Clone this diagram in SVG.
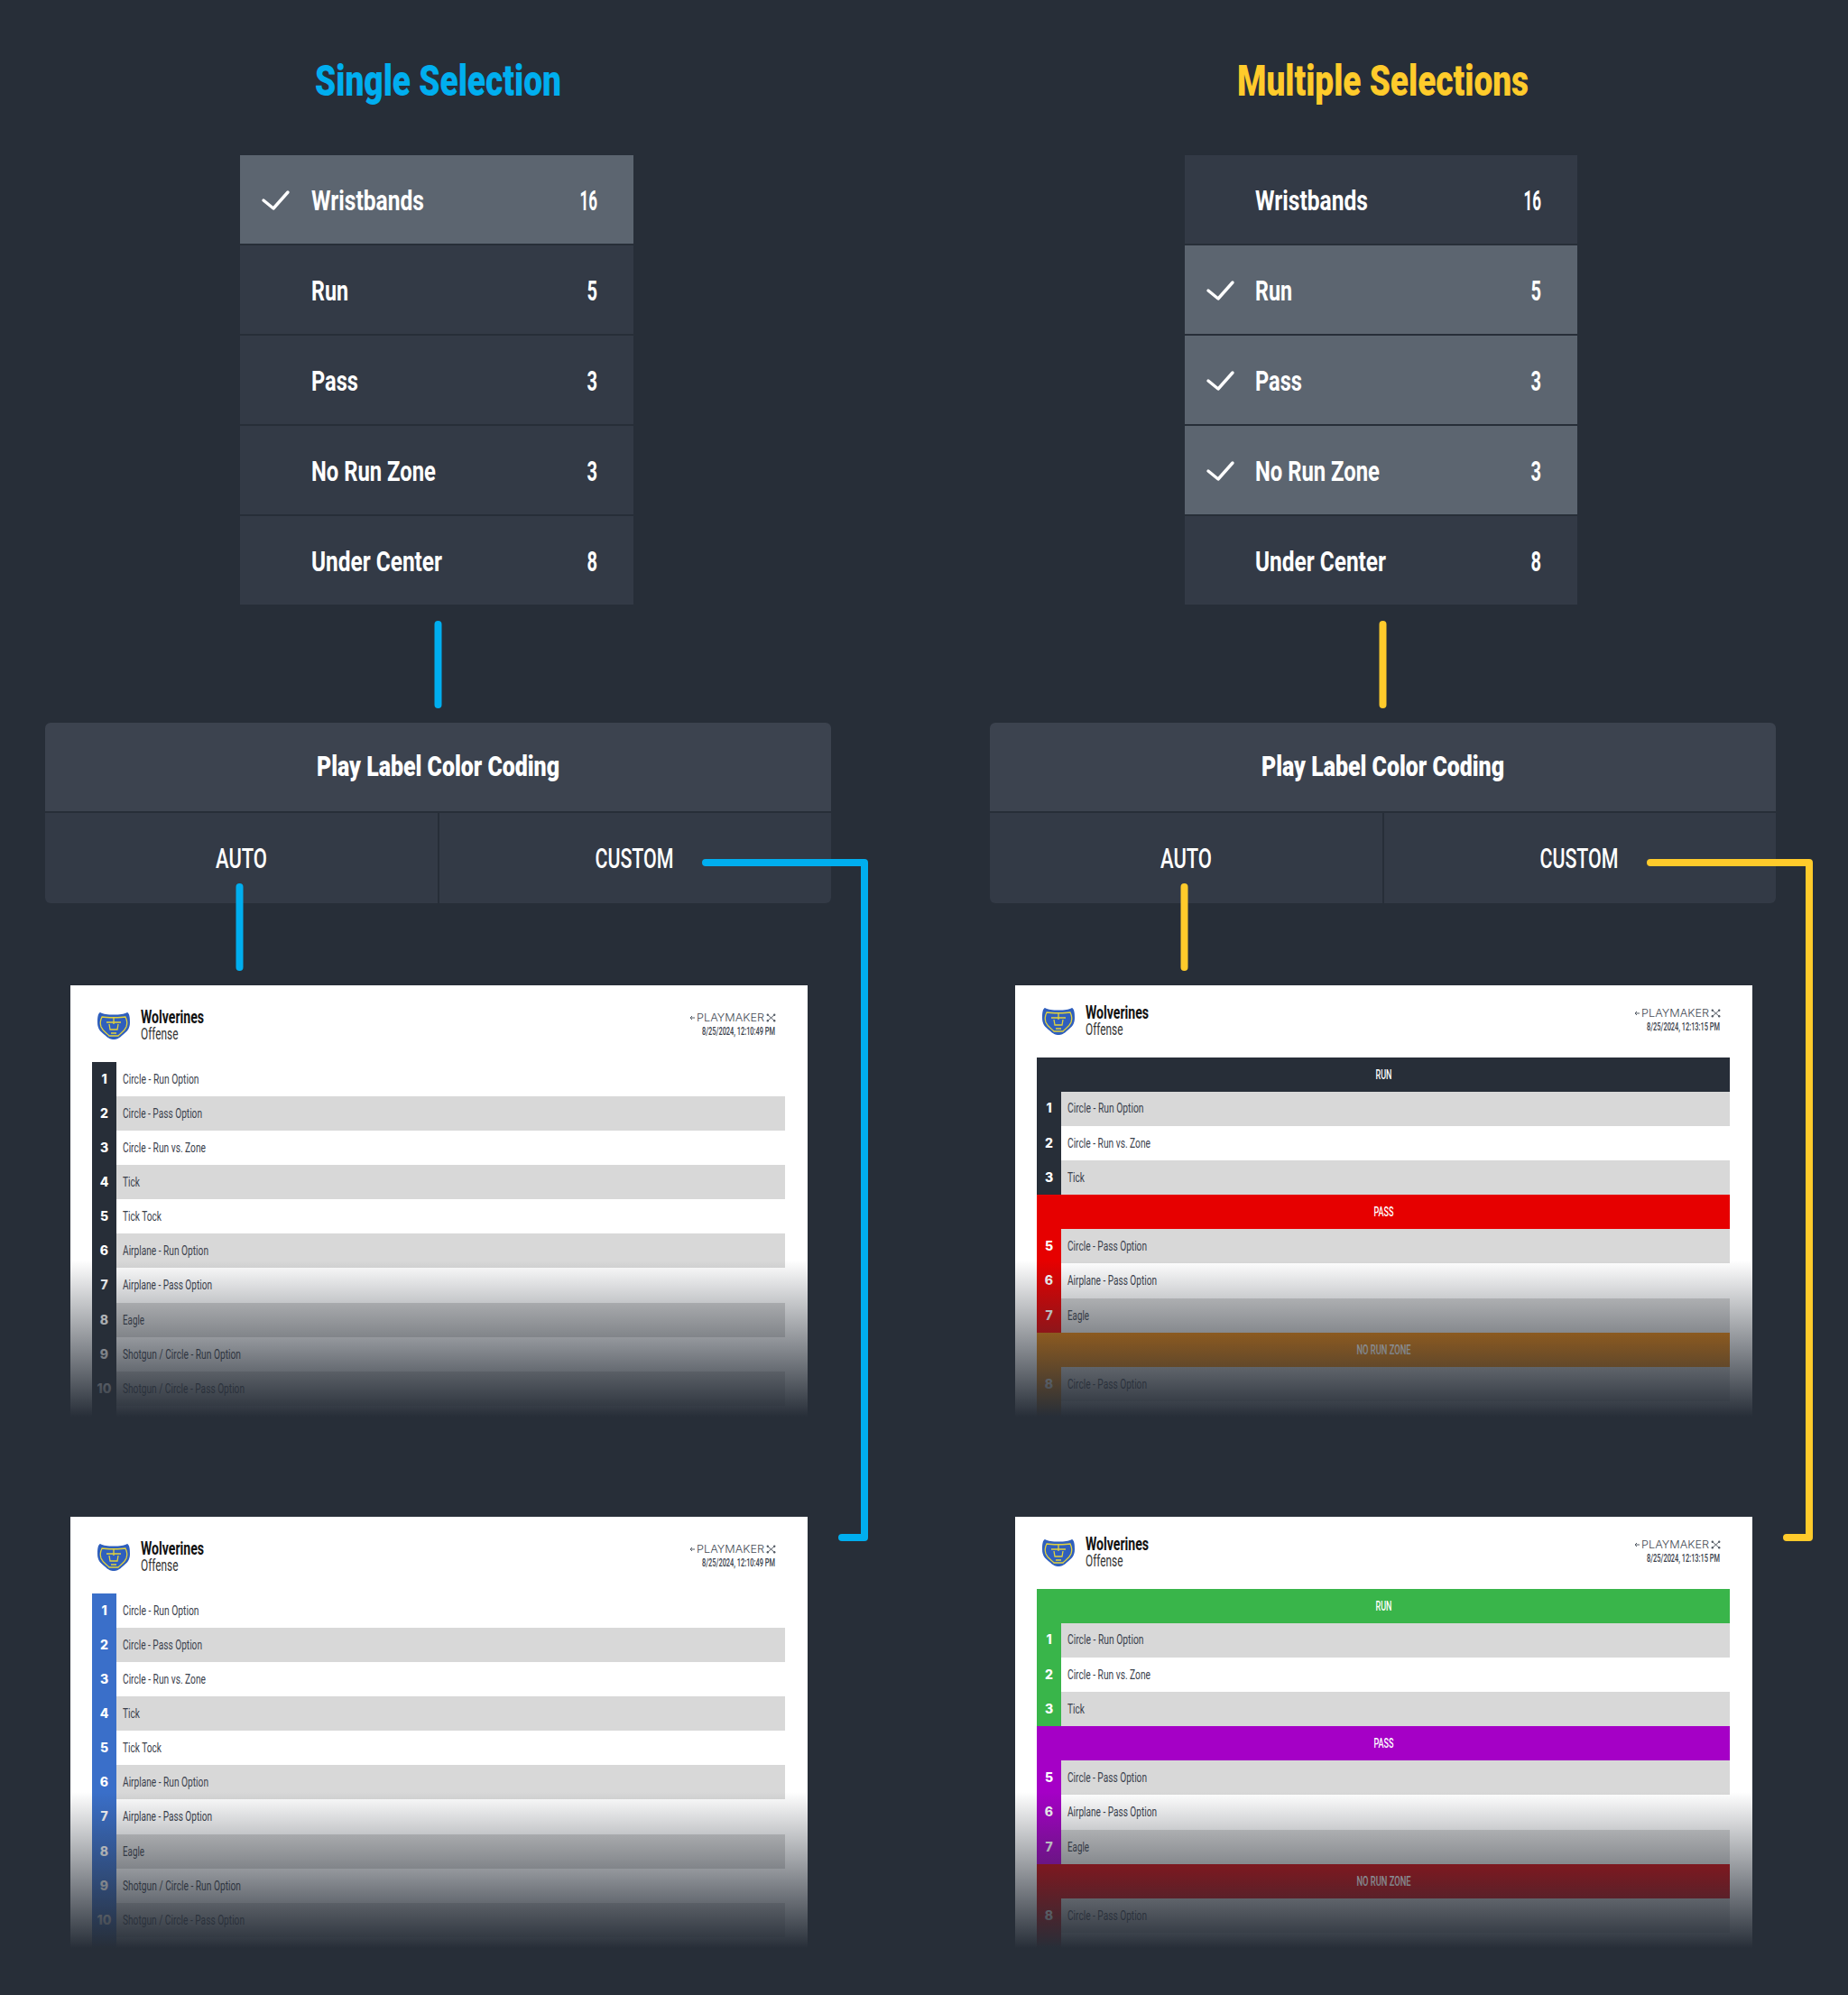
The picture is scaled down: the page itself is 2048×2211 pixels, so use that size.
<svg xmlns="http://www.w3.org/2000/svg" width="2048" height="2211" viewBox="0 0 2048 2211">
<style>
text{font-family:"Roboto","Liberation Sans",sans-serif}
.title{font-size:48px;font-weight:900}
.blue{fill:#00aeef}.yel{fill:#ffcb2b}
.row{fill:#333a46}.sel{fill:#5c6570}.phead{fill:#3c434f}
.lab{font-size:31px;font-weight:700;fill:#fff}
.hd{font-size:31px;font-weight:900;fill:#fff}
.opt{font-size:31px;font-weight:500;fill:#fff}
.check{fill:none;stroke:#fff;stroke-width:3.4;stroke-linecap:round;stroke-linejoin:round}
.conn{fill:none;stroke-width:8;stroke-linecap:round;stroke-linejoin:round}
.cb{stroke:#00aeef}.cy{stroke:#ffcb2b}
.paper{fill:#fff}.gr{fill:#d8d8d8}
.t{font-size:15px;fill:#3a414c}
.n{font-size:14px;font-weight:800;fill:#fff;text-anchor:middle;font-family:"Inter","Liberation Sans",sans-serif}
.w{font-size:20px;font-weight:700;fill:#111}
.o{font-size:18px;fill:#333}
.pm{font-size:11.500px;font-weight:300;fill:#444b55;font-family:"Inter","Liberation Sans",sans-serif}
.d{font-size:12px;font-weight:500;fill:#3a414c}
.s{font-size:14px;font-weight:500;fill:#fff;text-anchor:middle}
.mk{fill:none;stroke:#555c66;stroke-width:1}
</style>
<defs>
<linearGradient id="fade" x1="0" y1="0" x2="0" y2="1"><stop offset="0" stop-color="#272e38" stop-opacity="0"/><stop offset="1" stop-color="#272e38" stop-opacity="1"/></linearGradient>
<g id="logo">
<path d="M-15,-15 C-11,-13 -7,-12.500 0,-12.500 C7,-12.500 11,-13 15,-15 C17.500,-14 18,-9 18,-4 C18,3 15,6 10,10 C6,14 3,15 0,15 C-3,15 -6,14 -10,10 C-15,6 -18,3 -18,-4 C-18,-9 -17.500,-14 -15,-15Z" fill="#2f5fbd"/>
<path d="M-13,-10 C-8,-9 8,-9 13,-10 C15,-6 15,-2 14,1 C12,6 8,8 5,11 L-5,11 C-8,8 -12,6 -14,1 C-15,-2 -15,-6 -13,-10Z M0,-10 V-2 M-8,-4 H8 M-5,-2 L-4,4 H4 L5,-2 M-3,8 H3" fill="none" stroke="#e3d33c" stroke-width="1.300"/>
</g>
<g id="pmarrow"><path class="mk" d="M6,-4 H1 M3,-6 L1,-4 L3,-2"/></g>
<g id="pmx">
<path class="mk" d="M0,-8 L9,0 M9,-8 L0,0"/>
<circle cx="0.800" cy="-7.200" r="1.200" fill="#555c66"/><circle cx="8.200" cy="-7.200" r="1.200" fill="#555c66"/><circle cx="0.800" cy="-0.800" r="1.200" fill="#555c66"/><circle cx="8.200" cy="-0.800" r="1.200" fill="#555c66"/>
</g>
</defs>
<rect width="2048" height="2211" fill="#272e38"/>

<g id="title-single"><text class="title blue" x="349" y="106" textLength="273" lengthAdjust="spacingAndGlyphs">Single Selection</text></g>
<g id="title-multiple"><text class="title yel" x="1371" y="106" textLength="323" lengthAdjust="spacingAndGlyphs">Multiple Selections</text></g>

<g id="list-single">
<g id="s-wristbands"><rect class="sel" x="266" y="172" width="436" height="98"/><polyline class="check" points="292,222 303,231 319,213"/><text class="lab" x="345" y="233" textLength="125" lengthAdjust="spacingAndGlyphs">Wristbands</text><text class="lab" x="642.500" y="233" textLength="19.500" lengthAdjust="spacingAndGlyphs">16</text></g>
<g id="s-run"><rect class="row" x="266" y="272" width="436" height="98"/><text class="lab" x="345" y="333" textLength="41" lengthAdjust="spacingAndGlyphs">Run</text><text class="lab" x="650.500" y="333" textLength="11.500" lengthAdjust="spacingAndGlyphs">5</text></g>
<g id="s-pass"><rect class="row" x="266" y="372" width="436" height="98"/><text class="lab" x="345" y="433" textLength="52" lengthAdjust="spacingAndGlyphs">Pass</text><text class="lab" x="650.500" y="433" textLength="11.500" lengthAdjust="spacingAndGlyphs">3</text></g>
<g id="s-norun"><rect class="row" x="266" y="472" width="436" height="98"/><text class="lab" x="345" y="533" textLength="138" lengthAdjust="spacingAndGlyphs">No Run Zone</text><text class="lab" x="650.500" y="533" textLength="11.500" lengthAdjust="spacingAndGlyphs">3</text></g>
<g id="s-under"><rect class="row" x="266" y="572" width="436" height="98"/><text class="lab" x="345" y="633" textLength="145" lengthAdjust="spacingAndGlyphs">Under Center</text><text class="lab" x="650.500" y="633" textLength="11.500" lengthAdjust="spacingAndGlyphs">8</text></g>
</g>

<g id="list-multiple">
<g id="m-wristbands"><rect class="row" x="1313" y="172" width="435" height="98"/><text class="lab" x="1391" y="233" textLength="125" lengthAdjust="spacingAndGlyphs">Wristbands</text><text class="lab" x="1688.500" y="233" textLength="19.500" lengthAdjust="spacingAndGlyphs">16</text></g>
<g id="m-run"><rect class="sel" x="1313" y="272" width="435" height="98"/><polyline class="check" points="1339,322 1350,331 1366,313"/><text class="lab" x="1391" y="333" textLength="41" lengthAdjust="spacingAndGlyphs">Run</text><text class="lab" x="1696.500" y="333" textLength="11.500" lengthAdjust="spacingAndGlyphs">5</text></g>
<g id="m-pass"><rect class="sel" x="1313" y="372" width="435" height="98"/><polyline class="check" points="1339,422 1350,431 1366,413"/><text class="lab" x="1391" y="433" textLength="52" lengthAdjust="spacingAndGlyphs">Pass</text><text class="lab" x="1696.500" y="433" textLength="11.500" lengthAdjust="spacingAndGlyphs">3</text></g>
<g id="m-norun"><rect class="sel" x="1313" y="472" width="435" height="98"/><polyline class="check" points="1339,522 1350,531 1366,513"/><text class="lab" x="1391" y="533" textLength="138" lengthAdjust="spacingAndGlyphs">No Run Zone</text><text class="lab" x="1696.500" y="533" textLength="11.500" lengthAdjust="spacingAndGlyphs">3</text></g>
<g id="m-under"><rect class="row" x="1313" y="572" width="435" height="98"/><text class="lab" x="1391" y="633" textLength="145" lengthAdjust="spacingAndGlyphs">Under Center</text><text class="lab" x="1696.500" y="633" textLength="11.500" lengthAdjust="spacingAndGlyphs">8</text></g>
</g>

<g id="panel-single">
<path class="phead" d="M50,899 V807 a6,6 0 0 1 6,-6 H915 a6,6 0 0 1 6,6 V899Z"/>
<path class="row" d="M50,901 H485 V1001 H56 a6,6 0 0 1 -6,-6Z"/>
<path class="row" d="M487,901 H921 V995 a6,6 0 0 1 -6,6 H487Z"/>
<text class="hd" x="351" y="860" textLength="269" lengthAdjust="spacingAndGlyphs">Play Label Color Coding</text>
<text class="opt" x="239" y="962" textLength="57" lengthAdjust="spacingAndGlyphs">AUTO</text>
<text class="opt" x="659.500" y="962" textLength="87" lengthAdjust="spacingAndGlyphs">CUSTOM</text>
</g>
<g id="panel-multiple" transform="translate(1047,0)">
<path class="phead" d="M50,899 V807 a6,6 0 0 1 6,-6 H915 a6,6 0 0 1 6,6 V899Z"/>
<path class="row" d="M50,901 H485 V1001 H56 a6,6 0 0 1 -6,-6Z"/>
<path class="row" d="M487,901 H921 V995 a6,6 0 0 1 -6,6 H487Z"/>
<text class="hd" x="351" y="860" textLength="269" lengthAdjust="spacingAndGlyphs">Play Label Color Coding</text>
<text class="opt" x="239" y="962" textLength="57" lengthAdjust="spacingAndGlyphs">AUTO</text>
<text class="opt" x="659.500" y="962" textLength="87" lengthAdjust="spacingAndGlyphs">CUSTOM</text>
</g>

<g id="card-single-auto" transform="translate(78,1092)">
<rect class="paper" width="817" height="478"/>
<use href="#logo" x="48" y="45"/>
<text class="w" x="78" y="42" textLength="70" lengthAdjust="spacingAndGlyphs">Wolverines</text>
<text class="o" x="78" y="60" textLength="41.500" lengthAdjust="spacingAndGlyphs">Offense</text>
<use href="#pmarrow" x="686" y="40"/><text class="pm" x="694" y="40" textLength="75" lengthAdjust="spacingAndGlyphs">PLAYMAKER</text><use href="#pmx" x="772" y="40"/>
<text class="d" x="700" y="55" textLength="81" lengthAdjust="spacingAndGlyphs">8/25/2024, 12:10:49 PM</text>
<rect x="24" y="85" width="27" height="393" fill="#272e38"/>
<rect class="gr" x="51" y="123" width="741" height="38"/><rect class="gr" x="51" y="199" width="741" height="38"/><rect class="gr" x="51" y="275" width="741" height="38"/><rect class="gr" x="51" y="352" width="741" height="38"/><rect class="gr" x="51" y="428" width="741" height="38"/>
<text class="n" x="37.500" y="108.500">1</text><text class="t" x="58" y="108.500" textLength="84.500" lengthAdjust="spacingAndGlyphs">Circle - Run Option</text>
<text class="n" x="37.500" y="146.500">2</text><text class="t" x="58" y="146.500" textLength="88" lengthAdjust="spacingAndGlyphs">Circle - Pass Option</text>
<text class="n" x="37.500" y="184.500">3</text><text class="t" x="58" y="184.500" textLength="92" lengthAdjust="spacingAndGlyphs">Circle - Run vs. Zone</text>
<text class="n" x="37.500" y="222.500">4</text><text class="t" x="58" y="222.500" textLength="19" lengthAdjust="spacingAndGlyphs">Tick</text>
<text class="n" x="37.500" y="260.500">5</text><text class="t" x="58" y="260.500" textLength="43" lengthAdjust="spacingAndGlyphs">Tick Tock</text>
<text class="n" x="37.500" y="298.500">6</text><text class="t" x="58" y="298.500" textLength="95" lengthAdjust="spacingAndGlyphs">Airplane - Run Option</text>
<text class="n" x="37.500" y="337">7</text><text class="t" x="58" y="337" textLength="99" lengthAdjust="spacingAndGlyphs">Airplane - Pass Option</text>
<text class="n" x="37.500" y="375.500">8</text><text class="t" x="58" y="375.500" textLength="24" lengthAdjust="spacingAndGlyphs">Eagle</text>
<text class="n" x="37.500" y="413.500">9</text><text class="t" x="58" y="413.500" textLength="131" lengthAdjust="spacingAndGlyphs">Shotgun / Circle - Run Option</text>
<text class="n" x="37.500" y="451.500">10</text><text class="t" x="58" y="451.500" textLength="135" lengthAdjust="spacingAndGlyphs">Shotgun / Circle - Pass Option</text>
<rect y="305" width="817" height="173" fill="url(#fade)"/>
</g>

<g id="card-single-custom" transform="translate(78,1681)">
<rect class="paper" width="817" height="478"/>
<use href="#logo" x="48" y="45"/>
<text class="w" x="78" y="42" textLength="70" lengthAdjust="spacingAndGlyphs">Wolverines</text>
<text class="o" x="78" y="60" textLength="41.500" lengthAdjust="spacingAndGlyphs">Offense</text>
<use href="#pmarrow" x="686" y="40"/><text class="pm" x="694" y="40" textLength="75" lengthAdjust="spacingAndGlyphs">PLAYMAKER</text><use href="#pmx" x="772" y="40"/>
<text class="d" x="700" y="55" textLength="81" lengthAdjust="spacingAndGlyphs">8/25/2024, 12:10:49 PM</text>
<rect x="24" y="85" width="27" height="393" fill="#3a6fc9"/>
<rect class="gr" x="51" y="123" width="741" height="38"/><rect class="gr" x="51" y="199" width="741" height="38"/><rect class="gr" x="51" y="275" width="741" height="38"/><rect class="gr" x="51" y="352" width="741" height="38"/><rect class="gr" x="51" y="428" width="741" height="38"/>
<text class="n" x="37.500" y="108.500">1</text><text class="t" x="58" y="108.500" textLength="84.500" lengthAdjust="spacingAndGlyphs">Circle - Run Option</text>
<text class="n" x="37.500" y="146.500">2</text><text class="t" x="58" y="146.500" textLength="88" lengthAdjust="spacingAndGlyphs">Circle - Pass Option</text>
<text class="n" x="37.500" y="184.500">3</text><text class="t" x="58" y="184.500" textLength="92" lengthAdjust="spacingAndGlyphs">Circle - Run vs. Zone</text>
<text class="n" x="37.500" y="222.500">4</text><text class="t" x="58" y="222.500" textLength="19" lengthAdjust="spacingAndGlyphs">Tick</text>
<text class="n" x="37.500" y="260.500">5</text><text class="t" x="58" y="260.500" textLength="43" lengthAdjust="spacingAndGlyphs">Tick Tock</text>
<text class="n" x="37.500" y="298.500">6</text><text class="t" x="58" y="298.500" textLength="95" lengthAdjust="spacingAndGlyphs">Airplane - Run Option</text>
<text class="n" x="37.500" y="337">7</text><text class="t" x="58" y="337" textLength="99" lengthAdjust="spacingAndGlyphs">Airplane - Pass Option</text>
<text class="n" x="37.500" y="375.500">8</text><text class="t" x="58" y="375.500" textLength="24" lengthAdjust="spacingAndGlyphs">Eagle</text>
<text class="n" x="37.500" y="413.500">9</text><text class="t" x="58" y="413.500" textLength="131" lengthAdjust="spacingAndGlyphs">Shotgun / Circle - Run Option</text>
<text class="n" x="37.500" y="451.500">10</text><text class="t" x="58" y="451.500" textLength="135" lengthAdjust="spacingAndGlyphs">Shotgun / Circle - Pass Option</text>
<rect y="305" width="817" height="173" fill="url(#fade)"/>
</g>

<g id="card-multiple-auto" transform="translate(1125,1092)">
<rect class="paper" width="817" height="478"/>
<use href="#logo" x="48" y="40"/>
<text class="w" x="78" y="37" textLength="70" lengthAdjust="spacingAndGlyphs">Wolverines</text>
<text class="o" x="78" y="55" textLength="41.500" lengthAdjust="spacingAndGlyphs">Offense</text>
<use href="#pmarrow" x="686" y="35"/><text class="pm" x="694" y="35" textLength="75" lengthAdjust="spacingAndGlyphs">PLAYMAKER</text><use href="#pmx" x="772" y="35"/>
<text class="d" x="700" y="50" textLength="81" lengthAdjust="spacingAndGlyphs">8/25/2024, 12:13:15 PM</text>
<rect x="24" y="80" width="768" height="38" fill="#272e38"/><rect x="24" y="118" width="27" height="114" fill="#272e38"/>
<rect x="24" y="232" width="768" height="38" fill="#e60000"/><rect x="24" y="270" width="27" height="115" fill="#e60000"/>
<rect x="24" y="385" width="768" height="38" fill="#e2800c"/><rect x="24" y="423" width="27" height="55" fill="#e2800c"/>
<rect class="gr" x="51" y="118" width="741" height="38"/><rect class="gr" x="51" y="194" width="741" height="38"/><rect class="gr" x="51" y="270" width="741" height="38"/><rect class="gr" x="51" y="347" width="741" height="38"/><rect class="gr" x="51" y="423" width="741" height="38"/>
<text class="s" x="408.500" y="103.500" textLength="18" lengthAdjust="spacingAndGlyphs">RUN</text>
<text class="n" x="37.500" y="141">1</text><text class="t" x="58" y="141" textLength="84.500" lengthAdjust="spacingAndGlyphs">Circle - Run Option</text>
<text class="n" x="37.500" y="180">2</text><text class="t" x="58" y="180" textLength="92" lengthAdjust="spacingAndGlyphs">Circle - Run vs. Zone</text>
<text class="n" x="37.500" y="218">3</text><text class="t" x="58" y="218" textLength="19" lengthAdjust="spacingAndGlyphs">Tick</text>
<text class="s" x="408.500" y="255.500" textLength="22" lengthAdjust="spacingAndGlyphs">PASS</text>
<text class="n" x="37.500" y="293.500">5</text><text class="t" x="58" y="293.500" textLength="88" lengthAdjust="spacingAndGlyphs">Circle - Pass Option</text>
<text class="n" x="37.500" y="332">6</text><text class="t" x="58" y="332" textLength="99" lengthAdjust="spacingAndGlyphs">Airplane - Pass Option</text>
<text class="n" x="37.500" y="370.500">7</text><text class="t" x="58" y="370.500" textLength="24" lengthAdjust="spacingAndGlyphs">Eagle</text>
<text class="s" x="408.500" y="408.500" textLength="60" lengthAdjust="spacingAndGlyphs">NO RUN ZONE</text>
<text class="n" x="37.500" y="446.500">8</text><text class="t" x="58" y="446.500" textLength="88" lengthAdjust="spacingAndGlyphs">Circle - Pass Option</text>
<rect y="305" width="817" height="173" fill="url(#fade)"/>
</g>

<g id="card-multiple-custom" transform="translate(1125,1681)">
<rect class="paper" width="817" height="478"/>
<use href="#logo" x="48" y="40"/>
<text class="w" x="78" y="37" textLength="70" lengthAdjust="spacingAndGlyphs">Wolverines</text>
<text class="o" x="78" y="55" textLength="41.500" lengthAdjust="spacingAndGlyphs">Offense</text>
<use href="#pmarrow" x="686" y="35"/><text class="pm" x="694" y="35" textLength="75" lengthAdjust="spacingAndGlyphs">PLAYMAKER</text><use href="#pmx" x="772" y="35"/>
<text class="d" x="700" y="50" textLength="81" lengthAdjust="spacingAndGlyphs">8/25/2024, 12:13:15 PM</text>
<rect x="24" y="80" width="768" height="38" fill="#39b54a"/><rect x="24" y="118" width="27" height="114" fill="#39b54a"/>
<rect x="24" y="232" width="768" height="38" fill="#a500c6"/><rect x="24" y="270" width="27" height="115" fill="#a500c6"/>
<rect x="24" y="385" width="768" height="38" fill="#c8050a"/><rect x="24" y="423" width="27" height="55" fill="#c8050a"/>
<rect class="gr" x="51" y="118" width="741" height="38"/><rect class="gr" x="51" y="194" width="741" height="38"/><rect class="gr" x="51" y="270" width="741" height="38"/><rect class="gr" x="51" y="347" width="741" height="38"/><rect class="gr" x="51" y="423" width="741" height="38"/>
<text class="s" x="408.500" y="103.500" textLength="18" lengthAdjust="spacingAndGlyphs">RUN</text>
<text class="n" x="37.500" y="141">1</text><text class="t" x="58" y="141" textLength="84.500" lengthAdjust="spacingAndGlyphs">Circle - Run Option</text>
<text class="n" x="37.500" y="180">2</text><text class="t" x="58" y="180" textLength="92" lengthAdjust="spacingAndGlyphs">Circle - Run vs. Zone</text>
<text class="n" x="37.500" y="218">3</text><text class="t" x="58" y="218" textLength="19" lengthAdjust="spacingAndGlyphs">Tick</text>
<text class="s" x="408.500" y="255.500" textLength="22" lengthAdjust="spacingAndGlyphs">PASS</text>
<text class="n" x="37.500" y="293.500">5</text><text class="t" x="58" y="293.500" textLength="88" lengthAdjust="spacingAndGlyphs">Circle - Pass Option</text>
<text class="n" x="37.500" y="332">6</text><text class="t" x="58" y="332" textLength="99" lengthAdjust="spacingAndGlyphs">Airplane - Pass Option</text>
<text class="n" x="37.500" y="370.500">7</text><text class="t" x="58" y="370.500" textLength="24" lengthAdjust="spacingAndGlyphs">Eagle</text>
<text class="s" x="408.500" y="408.500" textLength="60" lengthAdjust="spacingAndGlyphs">NO RUN ZONE</text>
<text class="n" x="37.500" y="446.500">8</text><text class="t" x="58" y="446.500" textLength="88" lengthAdjust="spacingAndGlyphs">Circle - Pass Option</text>
<rect y="305" width="817" height="173" fill="url(#fade)"/>
</g>

<g id="connectors">
<path class="conn cb" d="M485.500,692 V781"/>
<path class="conn cb" d="M265.500,983 V1072"/>
<path class="conn cb" d="M782,956 H958 V1704 H933"/>
<path class="conn cy" d="M1532.500,692 V781"/>
<path class="conn cy" d="M1312.500,983 V1072"/>
<path class="conn cy" d="M1829,956 H2005 V1704 H1980"/>
</g>
</svg>
